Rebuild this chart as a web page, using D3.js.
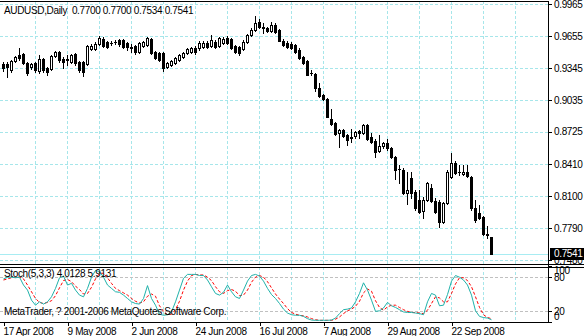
<!DOCTYPE html>
<html>
<head>
<meta charset="utf-8">
<script src="https://cdn.jsdelivr.net/npm/d3@7/dist/d3.min.js"></script>
<style>
  html, body { margin: 0; padding: 0; background: #fff; }
  svg { display: block; }
  text { font-family: "Liberation Sans", Arial, sans-serif; font-size: 10px; letter-spacing: -0.35px; white-space: pre; }
</style>
</head>
<body>
<svg id="chart" width="584" height="336"></svg>
<script>
// ---- datos (AUDUSD diario) ----
const opens = [
  0.9384,0.9384,0.9326,0.9413,0.9471,0.9481,0.9393,0.9355,0.9393,0.9316,
  0.9432,0.9345,0.9335,0.9461,0.9500,0.9432,0.9432,0.9403,0.9481,0.9403,
  0.9403,0.9384,0.9529,0.9529,0.9578,0.9626,0.9597,0.9587,0.9597,0.9616,
  0.9616,0.9587,0.9548,0.9558,0.9500,0.9558,0.9568,0.9626,0.9500,0.9490,
  0.9490,0.9355,0.9374,0.9393,0.9423,0.9452,0.9490,0.9500,0.9539,0.9539,
  0.9548,0.9587,0.9558,0.9597,0.9558,0.9587,0.9636,0.9626,0.9558,0.9548,
  0.9529,0.9597,0.9665,0.9713,0.9791,0.9742,0.9733,0.9703,0.9762,0.9713,
  0.9607,0.9587,0.9578,0.9568,0.9519,0.9452,0.9413,0.9297,0.9287,0.9151,
  0.9083,0.9045,0.8851,0.8812,0.8715,0.8744,0.8696,0.8677,0.8686,0.8735,
  0.8715,0.8793,0.8677,0.8638,0.8541,0.8589,0.8619,0.8570,0.8483,0.8367,
  0.8357,0.8134,0.8280,0.8144,0.8066,0.7960,0.8066,0.8183,0.8057,0.8047,
  0.7853,0.8037,0.8289,0.8425,0.8338,0.8318,0.8338,0.8289,0.7989,0.7940,
  0.7902,0.7732,0.7700
];
const highs = [
  0.9403,0.9403,0.9423,0.9461,0.9539,0.9490,0.9403,0.9393,0.9403,0.9471,
  0.9442,0.9355,0.9471,0.9510,0.9510,0.9452,0.9471,0.9481,0.9490,0.9413,
  0.9413,0.9568,0.9578,0.9597,0.9655,0.9645,0.9607,0.9607,0.9616,0.9626,
  0.9626,0.9597,0.9578,0.9568,0.9597,0.9607,0.9645,0.9636,0.9510,0.9500,
  0.9500,0.9403,0.9423,0.9452,0.9481,0.9500,0.9539,0.9548,0.9558,0.9607,
  0.9607,0.9607,0.9665,0.9616,0.9645,0.9645,0.9655,0.9636,0.9568,0.9558,
  0.9616,0.9674,0.9733,0.9849,0.9820,0.9781,0.9742,0.9791,0.9781,0.9723,
  0.9626,0.9607,0.9597,0.9578,0.9539,0.9461,0.9423,0.9326,0.9297,0.9200,
  0.9093,0.9054,0.8948,0.8822,0.8754,0.8754,0.8706,0.8754,0.8735,0.8744,
  0.8802,0.8802,0.8715,0.8657,0.8696,0.8628,0.8657,0.8580,0.8493,0.8405,
  0.8376,0.8338,0.8338,0.8163,0.8163,0.8095,0.8241,0.8221,0.8086,0.8066,
  0.8047,0.8357,0.8522,0.8444,0.8405,0.8405,0.8405,0.8299,0.8066,0.8018,
  0.7911,0.7814,0.7700
];
const lows = [
  0.9316,0.9258,0.9306,0.9403,0.9423,0.9384,0.9277,0.9335,0.9306,0.9297,
  0.9306,0.9277,0.9326,0.9452,0.9403,0.9345,0.9374,0.9393,0.9374,0.9306,
  0.9268,0.9374,0.9519,0.9519,0.9568,0.9548,0.9539,0.9568,0.9578,0.9558,
  0.9539,0.9519,0.9500,0.9481,0.9490,0.9548,0.9558,0.9481,0.9432,0.9413,
  0.9316,0.9345,0.9364,0.9384,0.9413,0.9442,0.9481,0.9490,0.9481,0.9519,
  0.9539,0.9539,0.9548,0.9539,0.9548,0.9578,0.9578,0.9529,0.9490,0.9471,
  0.9519,0.9587,0.9655,0.9703,0.9733,0.9684,0.9694,0.9694,0.9684,0.9607,
  0.9558,0.9539,0.9529,0.9490,0.9432,0.9384,0.9277,0.9277,0.9122,0.9064,
  0.9035,0.8870,0.8793,0.8696,0.8580,0.8677,0.8599,0.8628,0.8667,0.8667,
  0.8706,0.8648,0.8619,0.8483,0.8531,0.8570,0.8551,0.8473,0.8270,0.8231,
  0.8124,0.8027,0.8086,0.7969,0.7940,0.7892,0.8057,0.8047,0.7940,0.7805,
  0.7843,0.8027,0.8280,0.8318,0.8309,0.8309,0.8289,0.7969,0.7853,0.7882,
  0.7718,0.7698,0.7534
];
const closes = [
  0.9345,0.9355,0.9413,0.9452,0.9442,0.9393,0.9297,0.9384,0.9326,0.9432,
  0.9326,0.9306,0.9461,0.9500,0.9423,0.9403,0.9423,0.9471,0.9393,0.9326,
  0.9306,0.9558,0.9558,0.9578,0.9636,0.9558,0.9548,0.9585,0.9595,0.9578,
  0.9548,0.9548,0.9539,0.9500,0.9587,0.9597,0.9636,0.9490,0.9442,0.9423,
  0.9345,0.9393,0.9413,0.9442,0.9471,0.9490,0.9529,0.9539,0.9500,0.9587,
  0.9587,0.9548,0.9616,0.9548,0.9636,0.9626,0.9587,0.9539,0.9500,0.9490,
  0.9597,0.9665,0.9713,0.9781,0.9742,0.9733,0.9703,0.9762,0.9694,0.9607,
  0.9568,0.9548,0.9539,0.9500,0.9442,0.9393,0.9277,0.9295,0.9151,0.9074,
  0.9045,0.8870,0.8802,0.8706,0.8744,0.8686,0.8648,0.8667,0.8725,0.8715,
  0.8793,0.8657,0.8628,0.8531,0.8589,0.8619,0.8570,0.8483,0.8357,0.8360,
  0.8134,0.8163,0.8134,0.7989,0.7950,0.8066,0.8231,0.8057,0.7950,0.7853,
  0.8037,0.8338,0.8425,0.8328,0.8335,0.8338,0.8299,0.7989,0.7873,0.7892,
  0.7732,0.7718,0.7541
];
// Stoch(5,3,3): linea principal y senal
const stochMain = [
  77,80,80,79,80,66,57,39,30,36,
  32,36,45,60,79,82,66,69,57,48,
  45,60,80,92,90,80,66,60,54,53,
  48,42,36,33,32,42,65,42,30,14,
  12,13,18,36,57,78,85,85,85,83,
  83,75,63,51,48,53,66,54,45,42,
  57,73,83,85,82,73,60,49,42,33,
  23,16,13,12,12,10,6,3.5,3,3,
  3,3,3.5,7,15,22,23,25,36,51,
  70,57,39,19,20,25,35,29,26,22,
  18,17,17,16,15,13,36,51,48,29,
  30,49,73,83,80,75,66,48,20,10,
  8,7,4.0128
];
const stochSignal = [
  75,77,79,80,80,77,66,54,42,35,
  33,35,38,47,61,74,76,72,64,58,
  50,51,62,77,87,87,79,69,60,56,
  52,48,42,37,34,36,46,50,46,29,
  19,13,14,22,37,57,73,83,85,84,
  84,80,74,63,54,51,56,58,55,47,
  48,57,71,80,83,80,72,61,50,41,
  33,24,17,14,12,11,9,6,4,3,
  3,3,3,5,9,15,20,23,28,37,
  52,59,55,38,26,21,27,30,30,26,
  22,19,17,17,16,15,21,33,45,43,
  36,36,51,68,79,79,74,63,45,26,
  13,8,5.9131
];

const dateLabels = ["17 Apr 2008", "9 May 2008", "2 Jun 2008", "24 Jun 2008",
                    "16 Jul 2008", "7 Aug 2008", "29 Aug 2008", "22 Sep 2008"];
const dateTickBars = [0, 16, 32, 48, 64, 80, 96, 112];
const priceTicks = [0.9965, 0.9655, 0.9345, 0.9035, 0.8725, 0.8410, 0.8100, 0.7790, 0.7480];
const stochTicks = [100, 80, 20, 0];
const stochLevels = [80, 20];
const titleText = "AUDUSD,Daily  0.7700 0.7700 0.7534 0.7541";
const stochText = "Stoch(5,3,3) 4.0128 5.9131";
const copyText = "MetaTrader, ? 2001-2006 MetaQuotes Software Corp.";
const bidPrice = 0.7541;

// ---- layout ----
const W = 584, H = 336;
const axisX = 548;
const main = { top: 1, bottom: 264 };
const sub = { top: 267, bottom: 322 };
const gridColor = "#a6e6ea";
const FONT = "'Liberation Sans', Arial, sans-serif";

const n = closes.length;
const svg = d3.select("#chart");

const x = d3.scaleLinear().domain([0, n - 1]).range([3, 3 + 4 * (n - 1)]);
const y = d3.scaleLinear().domain([0.7480, 0.9965]).range([260, 4]);
const ys = d3.scaleLinear().domain([0, 100]).range([sub.bottom, sub.top - 1]);

const px = v => Math.round(v) + 0.5;

// gridlines
const gridBars = d3.range(8, 130, 8);
const grid = svg.append("g").attr("stroke", gridColor).attr("stroke-dasharray", "3,2")
  .attr("shape-rendering", "crispEdges");
grid.selectAll("line.hg").data(priceTicks).join("line").attr("class", "hg")
  .attr("x1", 0).attr("x2", axisX).attr("y1", d => px(y(d))).attr("y2", d => px(y(d)));
grid.selectAll("line.vg").data(gridBars).join("line").attr("class", "vg")
  .attr("x1", d => px(x(d))).attr("x2", d => px(x(d))).attr("y1", main.top).attr("y2", main.bottom);
grid.selectAll("line.vs").data(gridBars).join("line").attr("class", "vs")
  .attr("x1", d => px(x(d))).attr("x2", d => px(x(d))).attr("y1", sub.top).attr("y2", sub.bottom);

// niveles del estocastico
svg.append("g").attr("stroke", "#c0c0c0").attr("stroke-dasharray", "3,2").attr("shape-rendering", "crispEdges")
  .selectAll("line").data(stochLevels).join("line")
  .attr("x1", 0).attr("x2", axisX).attr("y1", d => px(ys(d))).attr("y2", d => px(ys(d)));

// linea bid
svg.append("line").attr("shape-rendering", "crispEdges")
  .attr("x1", 0).attr("x2", axisX).attr("y1", px(y(bidPrice))).attr("y2", px(y(bidPrice)))
  .attr("stroke", "#a8ecf2");

// velas
const bars = d3.range(n).map(i => ({ i, o: opens[i], h: highs[i], l: lows[i], c: closes[i] }));
const candles = svg.append("g").attr("shape-rendering", "crispEdges");
candles.selectAll("line.wick").data(bars).join("line").attr("class", "wick")
  .attr("x1", d => px(x(d.i))).attr("x2", d => px(x(d.i)))
  .attr("y1", d => Math.round(y(d.h))).attr("y2", d => Math.round(y(d.l)) + 1)
  .attr("stroke", "#000");
candles.selectAll("rect.body").data(bars).join("rect").attr("class", "body")
  .attr("x", d => d.c > d.o ? Math.round(x(d.i)) - 0.5 : Math.round(x(d.i)) - 1)
  .attr("y", d => {
    const t = Math.round(y(Math.max(d.o, d.c)));
    return d.c > d.o ? t + 0.5 : t;
  })
  .attr("width", d => d.c > d.o ? 2 : 3)
  .attr("height", d => {
    const hgt = Math.round(y(Math.min(d.o, d.c))) - Math.round(y(Math.max(d.o, d.c)));
    return d.c > d.o ? Math.max(1, hgt) : Math.max(1, hgt + 1);
  })
  .attr("fill", d => d.c > d.o ? "#fff" : "#000")
  .attr("stroke", d => d.c > d.o ? "#000" : "none");

// estocastico
const line = d3.line().x((d, i) => x(i) + 0.5).y(d => ys(d));
svg.append("path").datum(stochSignal).attr("d", line)
  .attr("fill", "none").attr("stroke", "#ff0000").attr("stroke-width", 1).attr("stroke-dasharray", "3,2");
svg.append("path").datum(stochMain).attr("d", line)
  .attr("fill", "none").attr("stroke", "#20b2aa").attr("stroke-width", 1);

// marcos
const frame = svg.append("g").attr("stroke", "#000").attr("shape-rendering", "crispEdges");
frame.append("line").attr("x1", 0).attr("x2", axisX).attr("y1", main.top + 0.5).attr("y2", main.top + 0.5);
frame.append("line").attr("x1", 0).attr("x2", W).attr("y1", main.bottom + 0.5).attr("y2", main.bottom + 0.5);
frame.append("line").attr("x1", 0).attr("x2", W).attr("y1", sub.top + 0.5).attr("y2", sub.top + 0.5);
frame.append("line").attr("x1", 0).attr("x2", axisX + 1).attr("y1", sub.bottom + 0.5).attr("y2", sub.bottom + 0.5);
frame.append("line").attr("x1", axisX + 0.5).attr("x2", axisX + 0.5).attr("y1", main.top).attr("y2", sub.bottom + 1);

// eje de precios
const priceAxis = svg.append("g").attr("transform", `translate(${axisX + 1},0)`)
  .call(d3.axisRight(y).tickValues(priceTicks).tickSize(3).tickPadding(2).tickFormat(d3.format(".4f")));
priceAxis.select(".domain").remove();
priceAxis.attr("font-family", FONT).attr("font-size", 10);
priceAxis.selectAll("line").attr("shape-rendering", "crispEdges");
priceAxis.selectAll("text").attr("fill", "#000");

// caja del precio actual
const bidY = y(bidPrice);
svg.append("rect").attr("x", axisX + 2).attr("y", Math.round(bidY) - 6).attr("width", W - axisX - 2).attr("height", 12)
  .attr("fill", "#000");
svg.append("text").attr("x", axisX + 6).attr("y", bidY + 3.5).attr("fill", "#fff")
  .text(d3.format(".4f")(bidPrice));

// eje del estocastico
const stochAxis = svg.append("g").attr("transform", `translate(${axisX + 1},0)`)
  .call(d3.axisRight(ys).tickValues(stochTicks).tickSize(3).tickPadding(2));
stochAxis.select(".domain").remove();
stochAxis.attr("font-family", FONT).attr("font-size", 10);
stochAxis.selectAll("line").attr("shape-rendering", "crispEdges");
stochAxis.selectAll("text").attr("fill", "#000")
  .attr("y", d => d === 100 ? 4 : d === 0 ? -6 : 0);

// eje de fechas
const dateAxis = svg.append("g").attr("transform", `translate(0,${sub.bottom + 1})`)
  .call(d3.axisBottom(x).tickValues(dateTickBars).tickSize(3).tickPadding(2)
    .tickFormat((d, i) => dateLabels[i]));
dateAxis.select(".domain").remove();
dateAxis.attr("font-family", FONT).attr("font-size", 10);
dateAxis.selectAll(".tick line").attr("transform", "translate(0.5,0)").attr("shape-rendering", "crispEdges");
dateAxis.selectAll("text").attr("text-anchor", "start").attr("x", 0).attr("fill", "#000");

// textos
svg.append("text").attr("x", 4).attr("y", 14).text(titleText);
svg.append("text").attr("x", 4).attr("y", 277).text(stochText);
svg.append("text").attr("x", 4).attr("y", 315).text(copyText);
</script>
</body>
</html>
